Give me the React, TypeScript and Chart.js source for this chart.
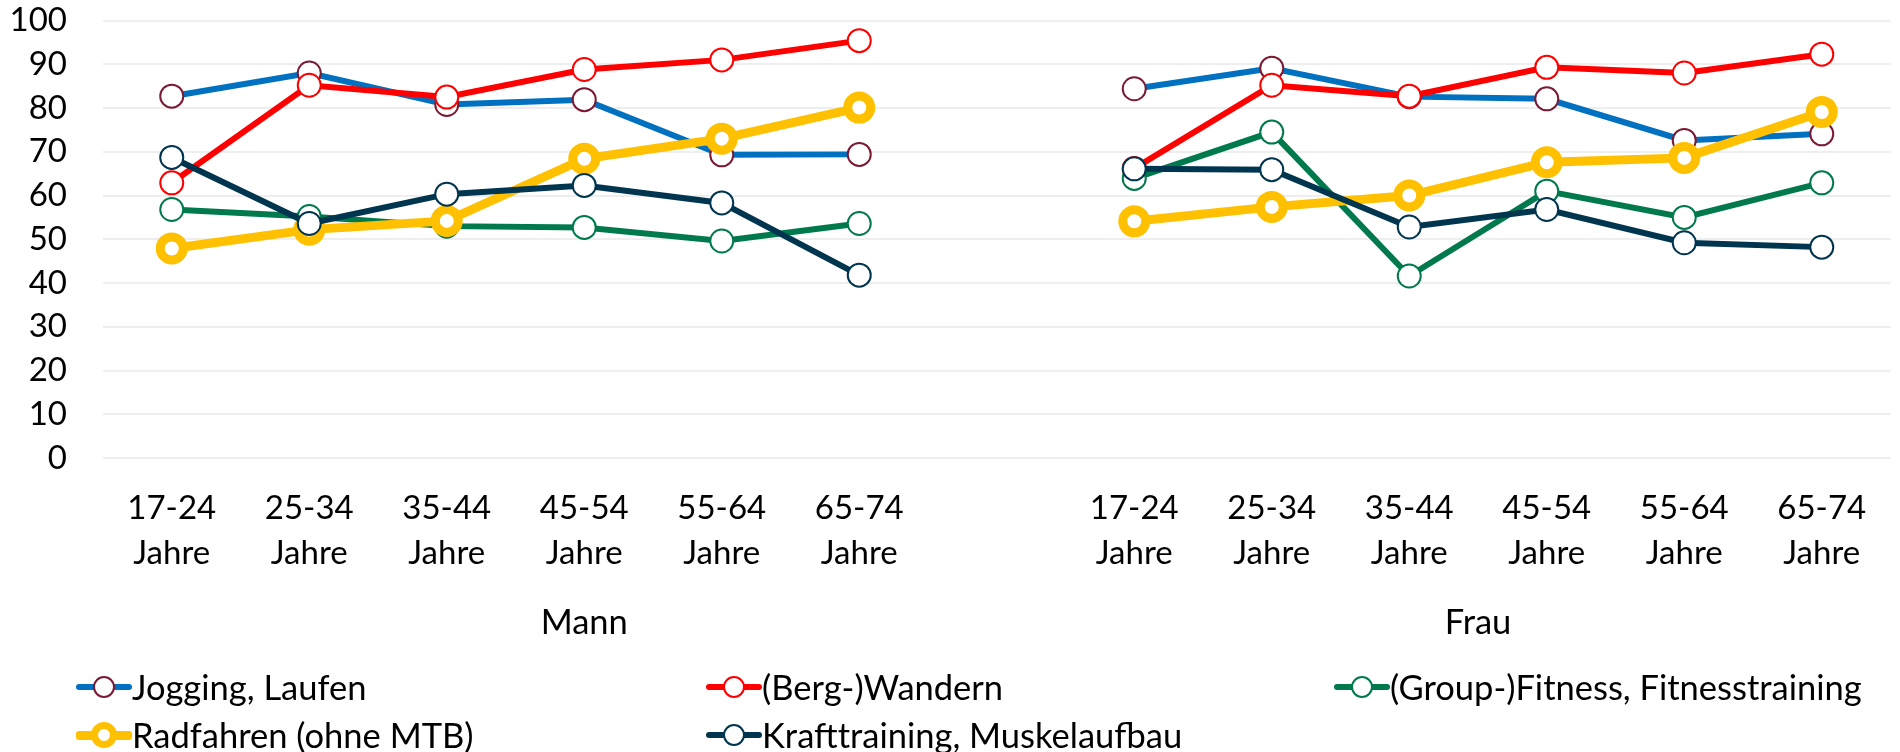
import React, { useEffect, useRef } from "react";
import { Chart, registerables } from "chart.js";

Chart.register(...registerables);

const ageGroups = ["17-24", "25-34", "35-44", "45-54", "55-64", "65-74"];
const ageSuffix = "Jahre";
const genderGroups = ["Mann", "Frau"];

const seriesNames = [
  "Jogging, Laufen",
  "(Berg-)Wandern",
  "(Group-)Fitness, Fitnesstraining",
  "Radfahren (ohne MTB)",
  "Krafttraining, Muskelaufbau",
];

const joggingMann = [82.7, 88.0, 80.8, 81.9, 69.3, 69.4];
const joggingFrau = [84.4, 89.1, 82.6, 82.1, 72.6, 74.1];
const wandernMann = [62.9, 85.2, 82.5, 88.8, 91.0, 95.4];
const wandernFrau = [66.2, 85.2, 82.7, 89.3, 88.0, 92.3];
const fitnessMann = [56.8, 55.2, 53.0, 52.7, 49.6, 53.6];
const fitnessFrau = [63.9, 74.5, 41.6, 61.0, 55.0, 62.9];
const radMann = [47.9, 52.2, 54.2, 68.4, 73.0, 80.1];
const radFrau = [54.1, 57.4, 60.0, 67.6, 68.6, 79.1];
const kraftMann = [68.7, 53.6, 60.3, 62.3, 58.3, 41.8];
const kraftFrau = [66.1, 65.9, 52.8, 56.8, 49.2, 48.2];

const yTicksStep = 10;

const lineColors = ["#0070C0", "#FF0000", "#007A4D", "#FFC000", "#00354F"];
const markerColors = ["#7B1A33", "#FF0000", "#007A4D", "#FFC000", "#00354F"];

const FONT = "Lato";
const FONT_SIZE = 33;
const LEGEND_FONT_SIZE = 34.5;

const labels: (string | string[])[] = [
  ...ageGroups.map((a) => [a, ageSuffix]),
  "",
  ...ageGroups.map((a) => [a, ageSuffix]),
];

const join = (m: number[], f: number[]) => [...m, null, ...f];

const seriesData = [
  join(joggingMann, joggingFrau),
  join(wandernMann, wandernFrau),
  join(fitnessMann, fitnessFrau),
  join(radMann, radFrau),
  join(kraftMann, kraftFrau),
];

const groupLabelPlugin = {
  id: "groupLabels",
  afterDraw(chart: any) {
    const x = chart.scales.x;
    const ctx = chart.ctx;
    const n = ageGroups.length;
    const spans = [
      [0, n],
      [n + 1, 2 * n],
    ];
    ctx.save();
    ctx.font = `${LEGEND_FONT_SIZE}px ${FONT}`;
    ctx.fillStyle = "#000";
    ctx.textAlign = "center";
    ctx.textBaseline = "middle";
    genderGroups.forEach((g, i) => {
      const [a, b] = spans[i];
      const cx = (x.getPixelForValue(a) + x.getPixelForValue(b)) / 2;
      ctx.fillText(g, cx, chart.chartArea.bottom + 165);
    });
    ctx.restore();
  },
};

function LegendItem({ idx }: { idx: number }) {
  const isRad = idx === 3;
  const col = idx < 3 ? idx : idx - 3;
  const row = idx < 3 ? 0 : 1;
  const left = [76, 706, 1334][col];
  const top = [687, 735][row];
  const d = isRad ? 26 : 22;
  const bw = isRad ? 7 : 2;
  return (
    <div
      style={{
        position: "absolute",
        left,
        top: top - 24,
        height: 48,
        display: "flex",
        alignItems: "center",
        whiteSpace: "nowrap",
      }}
    >
      <div style={{ position: "relative", width: 56, height: 48, flex: "none" }}>
        <div
          style={{
            position: "absolute",
            left: 0,
            top: 24 - (isRad ? 4.5 : 3),
            width: 56,
            height: isRad ? 9 : 6,
            background: lineColors[idx],
            borderRadius: 3,
          }}
        />
        <div
          style={{
            position: "absolute",
            left: 28 - d / 2,
            top: 24 - d / 2,
            width: d,
            height: d,
            boxSizing: "border-box",
            borderRadius: "50%",
            background: "#fff",
            border: `${bw}px solid ${markerColors[idx]}`,
          }}
        />
      </div>
      <span
        style={{
          fontFamily: FONT,
          fontSize: LEGEND_FONT_SIZE,
          color: "#000",
          lineHeight: "48px",
        }}
      >
        {seriesNames[idx]}
      </span>
    </div>
  );
}

export default function App() {
  const ref = useRef<HTMLCanvasElement | null>(null);

  useEffect(() => {
    document.body.style.overflow = "hidden";
    const canvas = ref.current;
    if (!canvas) return;
    const datasets = seriesNames.map((name, i) => {
      const isRad = i === 3;
      return {
        label: name,
        data: seriesData[i],
        borderColor: lineColors[i],
        backgroundColor: lineColors[i],
        borderWidth: isRad ? 9 : 6,
        pointRadius: 11.5,
        pointHoverRadius: 11.5,
        pointBorderWidth: isRad ? 9 : 2,
        pointBorderColor: markerColors[i],
        pointBackgroundColor: "#ffffff",
        spanGaps: false,
        tension: 0,
        order: seriesNames.length - i,
      };
    });
    const chart = new Chart(canvas, {
      type: "line",
      data: { labels, datasets: datasets as any },
      plugins: [groupLabelPlugin],
      options: {
        animation: false,
        responsive: false,
        maintainAspectRatio: false,
        font: { family: FONT } as any,
        layout: { padding: { top: 20, bottom: 134, left: 0, right: 0 } },
        plugins: {
          legend: { display: false },
          tooltip: { enabled: false },
        },
        scales: {
          x: {
            type: "category",
            offset: true,
            grid: { display: false },
            border: { display: false },
            ticks: {
              autoSkip: false,
              maxRotation: 0,
              minRotation: 0,
              padding: 20,
              color: "#000",
              font: { family: FONT, size: FONT_SIZE, lineHeight: 45 / FONT_SIZE },
            },
            afterFit(scale: any) {
              scale.height = 160;
            },
          },
          y: {
            min: 0,
            max: 100,
            grid: { color: "#EEEEEE", lineWidth: 2, drawTicks: false },
            border: { display: false },
            ticks: {
              stepSize: yTicksStep,
              autoSkip: false,
              padding: 36,
              color: "#000",
              font: { family: FONT, size: FONT_SIZE, lineHeight: 1.2 },
            },
            afterFit(scale: any) {
              scale.width = 103;
              scale.paddingTop = 0;
              scale.paddingBottom = 0;
            },
          },
        },
      },
    });
    return () => chart.destroy();
  }, []);

  return (
    <div
      style={{
        position: "absolute",
        left: 0,
        top: 0,
        width: 1911,
        height: 752,
        overflow: "hidden",
        background: "#fff",
      }}
    >
      <canvas ref={ref} width={1911} height={752} style={{ display: "block" }} />
      {seriesNames.map((_, i) => (
        <LegendItem key={i} idx={i} />
      ))}
    </div>
  );
}
